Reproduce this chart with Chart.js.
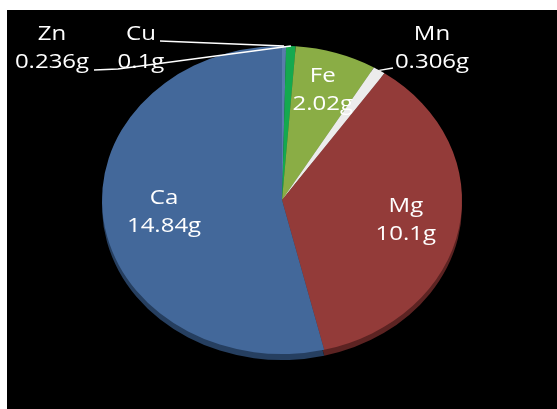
<!DOCTYPE html>
<html>
<head>
<meta charset="utf-8">
<script src="https://cdn.jsdelivr.net/npm/chart.js@4/dist/chart.umd.min.js"></script>
<style>
  html, body { margin: 0; padding: 0; background: #fff; }
  #wrap { width: 557px; height: 409px; position: relative; }
</style>
</head>
<body>
<div id="wrap"><canvas id="c" width="557" height="409"></canvas></div>
<script>
// Mineral content per element (grams), clockwise from 12 o'clock
const categories  = ['Cu', 'Zn', 'Fe', 'Mn', 'Mg', 'Ca'];
const masses      = [0.1, 0.236, 2.02, 0.306, 10.1, 14.84];
const valueLabels = ['0.1g', '0.236g', '2.02g', '0.306g', '10.1g', '14.84g'];

const sliceColors = ['#5a7dab', '#14a94f', '#8aad45', '#ececec', '#933b39', '#43689a'];
const rimColors   = ['#34506f', '#0c6a31', '#56702a', '#9a9a9a', '#5c2322', '#263f60'];

const TILT = 0.856;      // vertical squash of the pie (viewed at an angle)
const DEPTH = 6;         // thickness of the pie's side wall
const TEXT_STRETCH = 1.2;

// black panel behind the chart
const panel = {
  id: 'panel',
  beforeDraw(chart) {
    const ctx = chart.ctx;
    ctx.save();
    ctx.fillStyle = '#ffffff';
    ctx.fillRect(0, 0, chart.width, chart.height);
    ctx.fillStyle = '#000000';
    ctx.fillRect(7, 10, chart.width - 7, chart.height - 10);
    ctx.restore();
  }
};

// squash the pie into an ellipse and give it a side wall
const tilted = {
  id: 'tilted',
  beforeDatasetsDraw(chart) {
    const ctx = chart.ctx;
    const arcs = chart.getDatasetMeta(0).data;
    const cx = arcs[0].x, cy = arcs[0].y;
    ctx.save();
    ctx.translate(cx, cy + DEPTH);
    ctx.scale(1, TILT);
    ctx.translate(-cx, -cy);
    arcs.forEach((a, i) => {
      ctx.beginPath();
      ctx.moveTo(a.x, a.y);
      ctx.arc(a.x, a.y, a.outerRadius, a.startAngle, a.endAngle);
      ctx.closePath();
      ctx.fillStyle = rimColors[i];
      ctx.fill();
    });
    ctx.restore();
    ctx.save();
    ctx.translate(cx, cy);
    ctx.scale(1, TILT);
    ctx.translate(-cx, -cy);
  },
  afterDatasetsDraw(chart) {
    chart.ctx.restore();
  }
};

function stretchedText(ctx, text, x, y) {
  ctx.save();
  ctx.translate(x, y);
  ctx.scale(TEXT_STRETCH, 1);
  ctx.fillText(text, 0, 0);
  ctx.restore();
}

// element name + mass labels, inside the big slices and called out for the thin ones
const sliceLabels = {
  id: 'sliceLabels',
  afterDraw(chart, args, opts) {
    const ctx = chart.ctx;
    const arcs = chart.getDatasetMeta(0).data;
    ctx.save();
    ctx.font = '20px "Open Sans", sans-serif';
    ctx.fillStyle = '#ffffff';
    ctx.textAlign = 'center';
    ctx.textBaseline = 'middle';
    ctx.strokeStyle = '#ffffff';
    ctx.lineWidth = 1.5;
    arcs.forEach((a, i) => {
      const mid = (a.startAngle + a.endAngle) / 2;
      const callout = opts.callouts[categories[i]];
      let lx, ly;
      if (callout) {
        const ex = a.x + a.outerRadius * Math.cos(mid);
        const ey = a.y + a.outerRadius * Math.sin(mid) * TILT;
        ctx.beginPath();
        ctx.moveTo(ex, ey);
        callout.leader.forEach(p => ctx.lineTo(p[0], p[1]));
        ctx.stroke();
        lx = callout.at[0];
        ly = callout.at[1];
      } else {
        const f = opts.insideRadius[categories[i]];
        lx = a.x + a.outerRadius * f * Math.cos(mid);
        ly = a.y + a.outerRadius * f * Math.sin(mid) * TILT;
      }
      stretchedText(ctx, categories[i], lx, ly - opts.lineGap / 2);
      stretchedText(ctx, valueLabels[i], lx, ly + opts.lineGap / 2);
    });
    ctx.restore();
  }
};

new Chart(document.getElementById('c'), {
  type: 'pie',
  data: {
    labels: categories,
    datasets: [{
      data: masses,
      backgroundColor: sliceColors,
      borderWidth: 0
    }]
  },
  options: {
    responsive: false,
    devicePixelRatio: 1,
    animation: false,
    layout: { padding: { left: 102, right: 95, top: 20, bottom: 29 } },
    plugins: {
      legend: { display: false },
      tooltip: { enabled: false },
      sliceLabels: {
        lineGap: 28,
        insideRadius: { Fe: 0.75, Mg: 0.7, Ca: 0.66 },
        callouts: {
          Cu: { at: [141, 48], leader: [[160, 41]] },
          Zn: { at: [52, 48], leader: [[118, 69], [94, 70]] },
          Mn: { at: [432, 48], leader: [[393, 68]] }
        }
      }
    }
  },
  plugins: [panel, tilted, sliceLabels]
});
</script>
</body>
</html>
